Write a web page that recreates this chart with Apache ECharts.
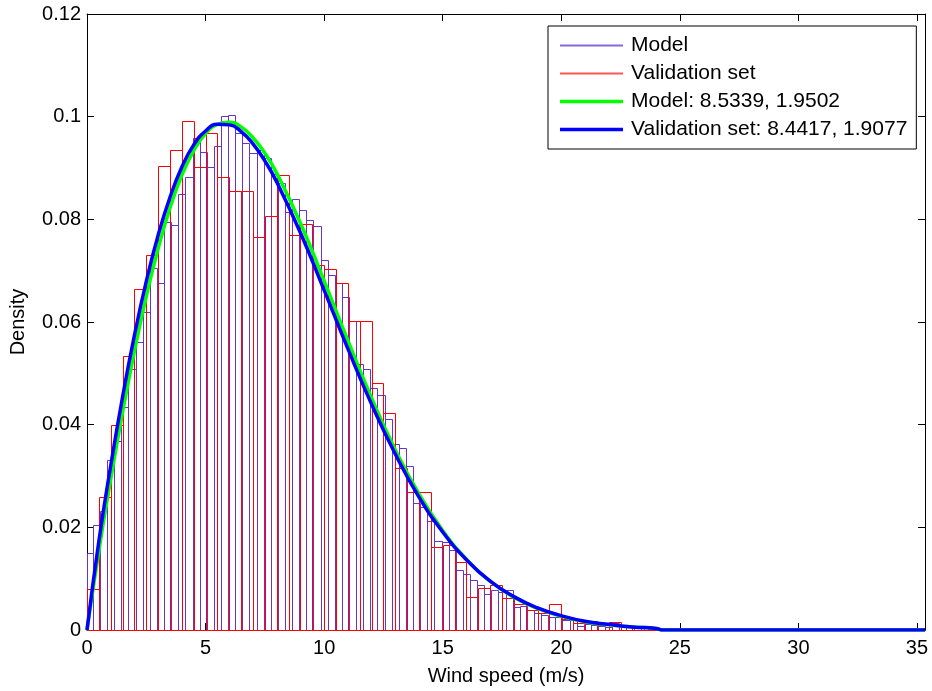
<!DOCTYPE html>
<html>
<head>
<meta charset="utf-8">
<script src="https://cdn.jsdelivr.net/npm/echarts@6/dist/echarts.min.js"></script>
<style>html,body{margin:0;padding:0;background:#fff;}#chart{width:932px;height:691px;}</style>
</head>
<body>
<div id="chart"></div>
<script>
// ---- Data ----
// Model histogram: bin width and first left edge (m/s), densities per bin
const modelBinStart = -0.05;
const modelBinWidth = 0.3;
const modelDensity = [
  0.0150, 0.0205, 0.0232, 0.0332, 0.0369, 0.0435, 0.0509, 0.0562, 0.0619, 0.0706,
  0.0676, 0.0794, 0.0788, 0.0849, 0.0882, 0.0959, 0.0932, 0.0902, 0.0943, 0.1001,
  0.1003, 0.0968, 0.0948, 0.0929, 0.0935, 0.0920, 0.0889, 0.0870, 0.0814, 0.0839,
  0.0819, 0.0798, 0.0787, 0.0720, 0.0691, 0.0676, 0.0649, 0.0602, 0.0519, 0.0509,
  0.0472, 0.0457, 0.0411, 0.0362, 0.0355, 0.0320, 0.0247, 0.0239, 0.0212, 0.0173,
  0.0172, 0.0155, 0.0117, 0.0110, 0.0097, 0.0088, 0.0071, 0.0078, 0.0075, 0.0078,
  0.0045, 0.0046, 0.0038, 0.0034, 0.0029, 0.0026, 0.0026, 0.0019, 0.0019, 0.0008,
  0.0012, 0.0009, 0.0007, 0.0006, 0.0014, 0.0007, 0.0005, 0.0005, 0.0003, 0.0002,
  0.0002, 0.0001, 0, 0, 0, 0, 0, 0, 0, 0,
  0, 0, 0, 0, 0, 0, 0, 0, 0, 0,
  0, 0, 0, 0, 0, 0, 0, 0, 0, 0,
  0, 0, 0, 0, 0, 0, 0, 0
];
// Validation-set histogram
const validBinStart = 0;
const validBinWidth = 0.5;
const validDensity = [
  0.0080, 0.0259, 0.0399, 0.0534, 0.0664, 0.0731, 0.0904, 0.0936, 0.0991, 0.0902,
  0.0969, 0.0883, 0.0856, 0.0856, 0.0766, 0.0806, 0.0887, 0.0769, 0.0791, 0.0712,
  0.0704, 0.0676, 0.0602, 0.0602, 0.0481, 0.0423, 0.0315, 0.0269, 0.0269, 0.0162,
  0.0165, 0.0133, 0.0065, 0.0081, 0.0088, 0.0062, 0.0051, 0.0039, 0.0034, 0.0050,
  0.0022, 0.0013, 0.0018, 0.0010, 0.0016, 0.0008, 0.0004, 0.0003, 0.0001
];
// Fitted curves
const curveX = [0, 0.5, 1, 1.5, 2, 2.5, 3, 3.5, 4, 4.5, 5, 5.5, 6, 6.5, 7, 7.5, 8,
  9, 10, 11, 12, 13, 14, 15, 16, 17, 18, 19, 20, 21, 22, 23, 24, 24.3, 30, 35.34];
const modelFit = [0, 0.0154, 0.0294, 0.0424, 0.0543, 0.0650, 0.0743, 0.0822, 0.0886, 0.0934,
  0.0967, 0.0985, 0.0989, 0.0980, 0.0959, 0.0929, 0.0890, 0.0793, 0.0680, 0.0564,
  0.0452, 0.0351, 0.0265, 0.0194, 0.0138, 0.0095, 0.0064, 0.0042, 0.0027, 0.0016,
  0.0010, 0.0006, 0.0003, 0, 0, 0];
const validFit = [0, 0.0173, 0.0320, 0.0454, 0.0574, 0.0679, 0.0769, 0.0843, 0.0902, 0.0945,
  0.0972, 0.0985, 0.0984, 0.0971, 0.0947, 0.0914, 0.0873, 0.0774, 0.0662, 0.0548,
  0.0440, 0.0343, 0.0259, 0.0191, 0.0137, 0.0095, 0.0065, 0.0043, 0.0028, 0.0017,
  0.0011, 0.0006, 0.0003, 0, 0, 0];
const seriesNames = ['Model', 'Validation set', 'Model: 8.5339, 1.9502', 'Validation set: 8.4417, 1.9077'];
const xMin = 0, xMax = 35.34, xStep = 5;
const yMin = 0, yMax = 0.12, yStep = 0.02;

// ---- Build chart ----
const FONT = 'Liberation Sans, Arial, Helvetica, sans-serif';
const PURPLE = '#6633cc', RED = '#ff0000', GREEN = '#00ff00', BLUE = '#0000ff';

function histData(start, width, dens) {
  return dens.map((v, i) => [start + i * width, start + (i + 1) * width, v]);
}
function pairs(xs, ys) { return xs.map((x, i) => [x, ys[i]]); }

function histRender(color) {
  return function (params, api) {
    const x0 = Math.max(api.value(0), xMin);
    const x1 = Math.min(api.value(1), xMax);
    const v = api.value(2);
    const pTop = api.coord([x0, v]);
    const pBot = api.coord([x1, 0]);
    const l = Math.round(pTop[0]) + 0.5, r = Math.round(pBot[0]) + 0.5;
    const t = Math.round(pTop[1]) + 0.5, b = Math.round(pBot[1]) + 0.5;
    return {
      type: 'rect',
      shape: { x: l, y: t, width: r - l, height: b - t },
      style: { fill: 'none', stroke: color, lineWidth: 1 }
    };
  };
}

const axisCommon = {
  axisLine: { show: true, onZero: false, lineStyle: { color: '#000', width: 1 } },
  axisTick: { show: true, inside: true, length: 7, lineStyle: { color: '#000' } },
  splitLine: { show: false }
};

const chart = echarts.init(document.getElementById('chart'), null, { renderer: 'canvas' });
chart.setOption({
  animation: false,
  backgroundColor: '#fff',
  grid: { left: 87, right: 7, top: 14, bottom: 61, containLabel: false },
  xAxis: [
    Object.assign({
      type: 'value', position: 'bottom', min: xMin, max: xMax, interval: xStep,
      name: 'Wind speed (m/s)', nameLocation: 'middle', nameGap: 36,
      nameTextStyle: { fontSize: 20, color: '#000', fontFamily: FONT },
      axisLabel: { show: true, margin: 8, fontSize: 20, color: '#000', fontFamily: FONT, showMaxLabel: false,
        formatter: v => (Math.abs(v / xStep - Math.round(v / xStep)) < 1e-9 ? String(v) : '') }
    }, axisCommon),
    Object.assign({
      type: 'value', position: 'top', min: xMin, max: xMax, interval: xStep,
      axisLabel: { show: false }
    }, axisCommon)
  ],
  yAxis: [
    Object.assign({
      type: 'value', position: 'left', min: yMin, max: yMax, interval: yStep,
      name: 'Density', nameLocation: 'middle', nameGap: 59, nameRotate: 90,
      nameTextStyle: { fontSize: 20, color: '#000', fontFamily: FONT },
      axisLabel: { show: true, margin: 6, fontSize: 20, color: '#000', fontFamily: FONT,
        formatter: v => String(Math.round(v * 100) / 100) }
    }, axisCommon),
    Object.assign({
      type: 'value', position: 'right', min: yMin, max: yMax, interval: yStep,
      axisLabel: { show: false }
    }, axisCommon)
  ],
  legend: {
    orient: 'vertical', left: 548, top: 26,
    padding: [9, 9, 9, 12], itemGap: 7, itemWidth: 63, itemHeight: 20,
    backgroundColor: '#fff', borderColor: '#000', borderWidth: 1, borderRadius: 0,
    textStyle: { fontSize: 21, lineHeight: 20, color: '#000', fontFamily: FONT, padding: [0, 0, 0, 3] },
    itemStyle: { borderWidth: 0 },
    selectedMode: false,
    data: [
      { name: seriesNames[0], icon: 'path://M0 0H63V2H0Z', itemStyle: { color: '#8a66dd' } },
      { name: seriesNames[1], icon: 'path://M0 0H63V2H0Z', itemStyle: { color: '#ff5555' } },
      { name: seriesNames[2], icon: 'path://M0 0H63V3.5H0Z', itemStyle: { color: GREEN } },
      { name: seriesNames[3], icon: 'path://M0 0H63V3.5H0Z', itemStyle: { color: BLUE } }
    ]
  },
  series: [
    {
      name: seriesNames[0], type: 'custom', z: 1, xAxisIndex: 0, yAxisIndex: 0,
      itemStyle: { color: PURPLE },
      encode: { x: [0, 1], y: 2 },
      renderItem: histRender(PURPLE),
      data: histData(modelBinStart, modelBinWidth, modelDensity)
    },
    {
      name: seriesNames[1], type: 'custom', z: 2, xAxisIndex: 0, yAxisIndex: 0,
      itemStyle: { color: RED },
      encode: { x: [0, 1], y: 2 },
      renderItem: histRender(RED),
      data: histData(validBinStart, validBinWidth, validDensity)
    },
    {
      name: seriesNames[2], type: 'line', z: 3, showSymbol: false, smooth: 0.5,
      itemStyle: { color: GREEN }, lineStyle: { color: GREEN, width: 3.5 },
      data: pairs(curveX, modelFit)
    },
    {
      name: seriesNames[3], type: 'line', z: 4, showSymbol: false, smooth: 0.5,
      itemStyle: { color: BLUE }, lineStyle: { color: BLUE, width: 3.5 },
      data: pairs(curveX, validFit)
    }
  ]
});
</script>
</body>
</html>
